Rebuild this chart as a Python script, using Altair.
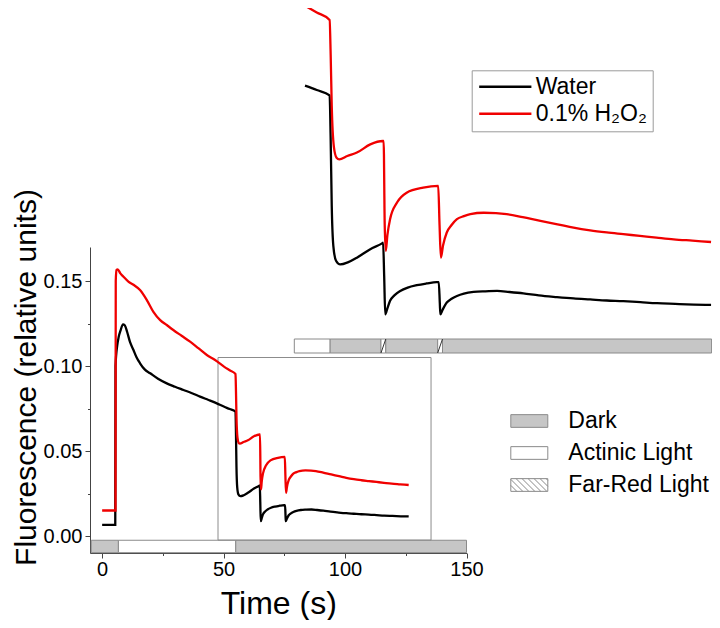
import altair as alt
import pandas as pd

# ---------------- data ----------------
water_t = [0, 5.4, 5.5, 6.2, 6.8, 7.6, 8.6, 9.3, 10.3, 11.5, 12.9, 14.2, 15.6, 17.5, 19.8,
           23.0, 26.6, 30.0, 33.5, 37.0, 40.3, 43.8, 47.2, 50.3, 52.5, 54.9,
           55.1, 55.3, 55.6, 56.1, 56.9, 58.3, 60.0, 62.5, 64.7, 64.9,
           65.1, 65.3, 65.7, 66.2, 67.0, 68.1, 69.5, 71.2, 73.0, 74.9, 75.3,
           75.5, 75.6, 76.0, 76.8, 77.7, 78.7, 80.0, 81.8, 84.0, 86.2, 88.5, 91.1,
           94.0, 97.4, 100.5, 103.6, 106.7, 109.8, 113.0, 116.1, 119.5, 123.0, 126.2]
water_v = [0.0065, 0.0065, 0.100, 0.112, 0.117, 0.121, 0.1245, 0.124, 0.120, 0.114, 0.1094, 0.105,
           0.1016, 0.098, 0.0957, 0.0925, 0.0898, 0.0878, 0.0859, 0.0840, 0.0820, 0.0800, 0.0780,
           0.0760, 0.0747, 0.0731,
           0.060, 0.0406, 0.0288, 0.0245, 0.0234, 0.0240, 0.0254, 0.0279, 0.0296, 0.0298,
           0.020, 0.0087, 0.0105, 0.0127, 0.0143, 0.0156, 0.0166, 0.0173, 0.0178, 0.0182, 0.0182,
           0.012, 0.0087, 0.0100, 0.0122, 0.0133, 0.0141, 0.0148, 0.0153, 0.0155, 0.0156, 0.0153,
           0.0149, 0.0143, 0.0138, 0.0134, 0.0131, 0.0128, 0.0126, 0.0123, 0.0120, 0.0118, 0.0116,
           0.0115]

h2o2_t = [0, 5.5, 5.6, 5.9, 6.4, 7.5, 8.8, 10.8, 12.9, 15.6, 18.4, 21.1, 23.9, 26.6, 29.3,
          32.7, 36.2, 39.6, 43.1, 46.5, 50.3, 52.5, 54.9,
          55.1, 55.3, 55.7, 56.2, 56.7, 58.2, 60.0, 62.5, 64.85, 65.0,
          65.2, 65.4, 65.7, 66.2, 67.5, 69.3, 72.4, 75.2,
          75.45, 75.7, 76.1, 76.8, 77.7, 78.7, 80.0, 81.2, 83.7, 86.0, 88.0, 91.0, 94.3,
          97.5, 100.5, 103.6, 106.7, 109.8, 112.9, 116.0, 119.2, 122.7, 126.2]
h2o2_v = [0.015, 0.015, 0.150, 0.1565, 0.1568, 0.1545, 0.1525, 0.1496, 0.1478, 0.1447, 0.1388,
          0.1319, 0.127, 0.1241, 0.1212, 0.1178, 0.1143, 0.1105, 0.1065, 0.1035, 0.0995, 0.0975,
          0.0953,
          0.085, 0.070, 0.058, 0.0548, 0.0543, 0.0553, 0.0563, 0.0587, 0.0597, 0.0597,
          0.035, 0.0274, 0.0320, 0.0367, 0.0416, 0.0445, 0.0460, 0.0465,
          0.035, 0.0254, 0.0290, 0.0328, 0.0350, 0.0367, 0.0376, 0.0382, 0.0386, 0.0385, 0.0382,
          0.0373, 0.0362, 0.0352, 0.0342, 0.0334, 0.0328, 0.0323, 0.0318, 0.0313, 0.0308, 0.0304,
          0.0300]

series_names = ["Water", "0.1% H\u2082O\u2082"]
series_colors = ["#000000", "#f00000"]

light_names = ["Dark", "Actinic Light", "Far-Red Light"]
light_fills = ["#c6c6c6", "#ffffff", "#ffffff"]

# light-regime bar under the main plot (time in s)
main_bar_start = [-4.5, 6.7, 55.0]
main_bar_end = [6.7, 55.0, 150.0]
main_bar_light = ["Dark", "Actinic Light", "Dark"]

# light-regime bar under the zoomed inset (time in s)
inset_bar_start = [48.3, 55.0, 64.5, 65.4, 75.1, 76.0]
inset_bar_end = [55.0, 64.5, 65.4, 75.1, 76.0, 126.3]
inset_bar_light = ["Actinic Light", "Dark", "Far-Red Light", "Dark", "Far-Red Light", "Dark"]

# zoom window drawn on the main plot
zoom_t = [47.7, 135.4]
zoom_v = [-0.0024, 0.105]

# ---------------- tables ----------------
lines_df = pd.concat([
    pd.DataFrame({"t": water_t, "v": water_v, "series": series_names[0]}),
    pd.DataFrame({"t": h2o2_t, "v": h2o2_v, "series": series_names[1]}),
], ignore_index=True)

main_bar_df = pd.DataFrame({"t0": main_bar_start, "t1": main_bar_end, "light": main_bar_light,
                            "y0": -0.0098, "y1": -0.0025})
inset_bar_df = pd.DataFrame({"t0": inset_bar_start, "t1": inset_bar_end, "light": inset_bar_light,
                             "y0": -0.00265, "y1": 0.00147})
zoom_df = pd.DataFrame({"t0": [zoom_t[0]], "t1": [zoom_t[1]], "v0": [zoom_v[0]], "v1": [zoom_v[1]]})
legend_df = pd.DataFrame({"light": light_names})

FONT = "Liberation Sans"

# ---------------- scales ----------------
MX = alt.Scale(domain=[-5, 150], range=[0, 376.5], nice=False, zero=False)
MY = alt.Scale(domain=[-0.01, 0.17], range=[545, 239], nice=False, zero=False)
IX = alt.Scale(domain=[48.3, 126.3], range=[204.3, 621.6], nice=False, zero=False)
IY = alt.Scale(domain=[-0.003, 0.1], range=[346.2, -4], nice=False, zero=False)

stroke_scale = alt.Scale(domain=series_names, range=series_colors)
fill_scale = alt.Scale(domain=light_names, range=light_fills)

# legend symbol paths (unit = sqrt(size)/2 = 9 px)
a0, a1, b = -1.0, -1.0 + 37 / 9, 0.706
rect_path = f"M{a0},{-b}H{a1:.3f}V{b}H{a0}Z"
hatch = [rect_path]
x0 = a0 - 2 * b + 0.667
while x0 < a1:
    xs, xe = max(x0, a0), min(x0 + 2 * b, a1)
    if xe > xs:
        hatch.append(f"M{xs:.3f},{-b + (xs - x0):.3f}L{xe:.3f},{-b + (xe - x0):.3f}")
    x0 += 0.667
hatch_path = "".join(hatch)
shape_scale = alt.Scale(domain=light_names, range=[rect_path, rect_path, hatch_path])

line_legend = alt.Legend(
    title=None, orient="none", legendX=381.7, legendY=62.3,
    symbolType="M-1,0H4.8", symbolSize=324, symbolStrokeWidth=2.5,
    labelFont=FONT, labelFontSize=23, labelColor="black", labelOffset=36, labelLimit=0,
    strokeColor="#9a9a9a", fillColor="white", padding=5, rowPadding=3,
)

light_legend = alt.Legend(
    title=None, orient="none", legendX=418.3, legendY=401.5,
    symbolSize=324, symbolStrokeColor="#8a8a8a", symbolStrokeWidth=1,
    labelFont=FONT, labelFontSize=23, labelColor="black", labelOffset=37, labelLimit=0,
    padding=0, rowPadding=8,
)

# ---------------- main panel ----------------
x_axis = alt.Axis(
    title="Time (s)", values=[0, 25, 50, 75, 100, 125, 150],
    labelExpr="datum.value % 50 === 0 ? datum.label : ''",
    tickSize={"condition": {"test": "datum.value % 50 === 0", "value": 5}, "value": 2.5},
    grid=False, domainColor="#444", tickColor="#444", labelPadding=1, labelFlush=False,
    labelFont=FONT, labelFontSize=20, labelColor="black",
    titleFont=FONT, titleFontSize=32, titleFontWeight="normal", titleColor="black", titlePadding=9,
)
y_axis = alt.Axis(
    title="Fluorescence (relative units)",
    values=[0, 0.025, 0.05, 0.075, 0.1, 0.125, 0.15], format=".2f",
    labelExpr="round(datum.value * 1000) % 50 === 0 ? datum.label : ''",
    tickSize={"condition": {"test": "round(datum.value * 1000) % 50 === 0", "value": 5}, "value": 2.5},
    grid=False, domainColor="#444", tickColor="#444", labelPadding=3, labelFlush=False,
    labelFont=FONT, labelFontSize=20, labelColor="black",
    titleFont=FONT, titleFontSize=30, titleFontWeight="normal", titleColor="black",
    titlePadding=2, titleY=369,
)

main_bar = alt.Chart(main_bar_df).mark_rect(stroke="#8a8a8a", strokeWidth=1).encode(
    x=alt.X("t0:Q", scale=MX, axis=x_axis), x2="t1:Q",
    y=alt.Y("y0:Q", scale=MY, axis=y_axis), y2="y1:Q",
    fill=alt.Fill("light:N", scale=fill_scale, legend=light_legend),
)
zoom_box = alt.Chart(zoom_df).mark_rect(filled=False, stroke="#8c8c8c", strokeWidth=1).encode(
    x=alt.X("t0:Q", scale=MX), x2="t1:Q",
    y=alt.Y("v0:Q", scale=MY), y2="v1:Q",
)
main_lines = alt.Chart(lines_df).mark_line(strokeWidth=2.3, interpolate="monotone").encode(
    x=alt.X("t:Q", scale=MX),
    y=alt.Y("v:Q", scale=MY),
    stroke=alt.Stroke("series:N", scale=stroke_scale, legend=line_legend),
    detail="series:N",
)
legend_points = alt.Chart(legend_df).transform_filter("false").mark_point(
    filled=True, opacity=1, stroke="#8a8a8a", strokeWidth=1
).encode(
    fill=alt.Fill("light:N", scale=fill_scale, legend=light_legend),
    shape=alt.Shape("light:N", scale=shape_scale, legend=light_legend),
)
main = alt.layer(main_bar, zoom_box, main_lines, legend_points)

# ---------------- inset panel ----------------
inset_bar = alt.Chart(inset_bar_df).mark_rect(stroke="#8a8a8a", strokeWidth=1).encode(
    x=alt.X("t0:Q", scale=IX, axis=None), x2="t1:Q",
    y=alt.Y("y0:Q", scale=IY, axis=None), y2="y1:Q",
    fill=alt.Fill("light:N", scale=fill_scale, legend=light_legend),
)
hatch_lines = alt.Chart(inset_bar_df).transform_filter(
    "datum.light === 'Far-Red Light'"
).mark_rule(stroke="#333333", strokeWidth=1).encode(
    x=alt.X("t0:Q", scale=IX, axis=None), x2="t1:Q",
    y=alt.Y("y0:Q", scale=IY, axis=None), y2="y1:Q",
)
inset_lines = alt.Chart(lines_df).transform_filter("datum.t >= 50").mark_line(
    strokeWidth=2.3, interpolate="monotone"
).encode(
    x=alt.X("t:Q", scale=IX, axis=None),
    y=alt.Y("v:Q", scale=IY, axis=None),
    stroke=alt.Stroke("series:N", scale=stroke_scale, legend=line_legend),
    detail="series:N",
)
inset = alt.layer(inset_bar, hatch_lines, inset_lines)

chart = alt.layer(main, inset).resolve_scale(x="independent", y="independent").properties(
    width=622, height=545,
    padding={"left": 82, "top": 0, "right": 0, "bottom": 67},
    autosize=alt.AutoSizeParams(type="none"),
).configure_view(strokeWidth=0)

chart.save("out.html", embed_options={"renderer": "svg", "actions": False})
